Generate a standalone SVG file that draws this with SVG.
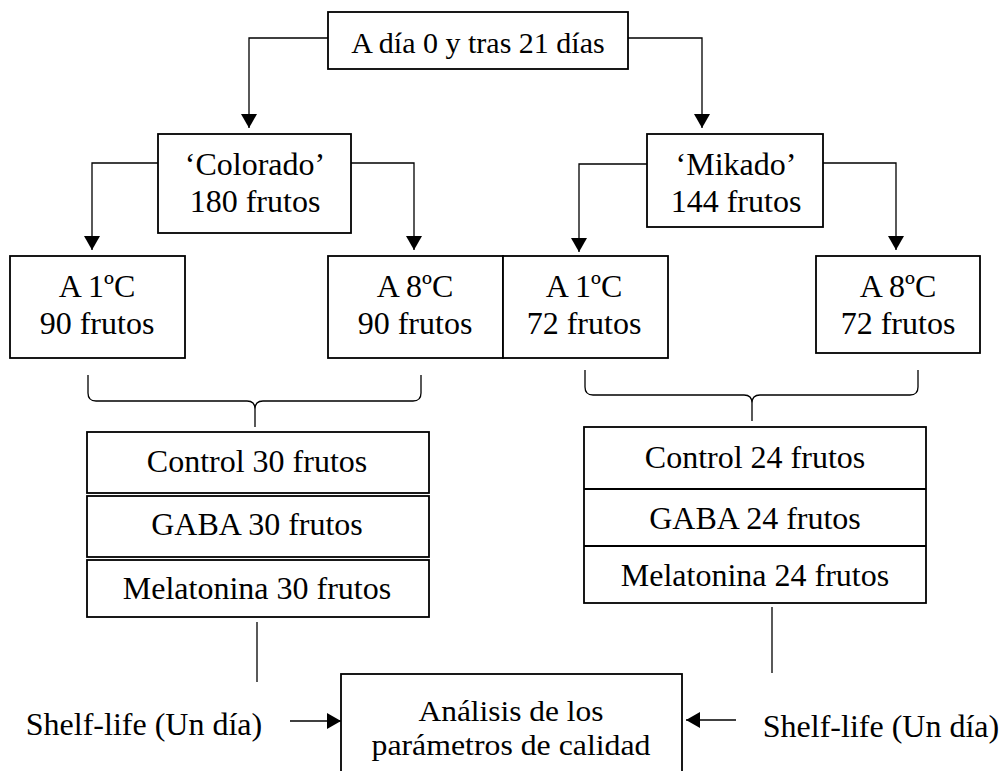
<svg xmlns="http://www.w3.org/2000/svg" width="1003" height="771" viewBox="0 0 1003 771">
<style>
.box{fill:#fff;stroke:#000;stroke-width:1.8}
.t{font-family:'Liberation Serif','Times New Roman','DejaVu Serif',serif;font-size:32px;fill:#000;text-anchor:middle}
.c{fill:none;stroke:#000;stroke-width:1.3}
</style>
<defs>
<marker id="ah" markerUnits="userSpaceOnUse" markerWidth="16" markerHeight="16" refX="14" refY="8" orient="auto">
<path d="M0,0 L14,8 L0,16 z" fill="#000"/>
</marker>
</defs>
<rect width="1003" height="771" fill="#fff"/>
<g id="connectors">
<path class="c" d="M328,38 H249 V128" marker-end="url(#ah)"/>
<path class="c" d="M628,38 H702 V128" marker-end="url(#ah)"/>
<path class="c" d="M158,163 H92 V250" marker-end="url(#ah)"/>
<path class="c" d="M351,163 H414 V250" marker-end="url(#ah)"/>
<path class="c" d="M647,164 H579 V252" marker-end="url(#ah)"/>
<path class="c" d="M823,163 H896 V250" marker-end="url(#ah)"/>
<path class="c" d="M88,375 L88,393 Q88,401 96,401 L247,401 Q255,401 255,409 L255,427 M255,409 Q255,401 263,401 L413,401 Q421,401 421,393 L421,375"/>
<path class="c" d="M585,370 L585,387 Q585,395 593,395 L744,395 Q752,395 752,403 L752,421 M752,403 Q752,395 760,395 L910,395 Q918,395 918,387 L918,370"/>
<path class="c" d="M257,622 V682"/>
<path class="c" d="M772,607 V673"/>
<path class="c" d="M290,721 H341" marker-end="url(#ah)"/>
<path class="c" d="M736,720 H686" marker-end="url(#ah)"/>
</g>
<g id="n-top">
<rect class="box" x="328" y="12" width="300" height="57"/>
<text class="t" x="478" y="53" font-family="Liberation Serif" style="font-size:30px">A día 0 y tras 21 días</text>
</g>
<g id="n-colorado">
<rect class="box" x="158" y="134" width="193" height="99"/>
<text class="t" x="255" y="175">‘Colorado’</text>
<text class="t" x="255" y="212">180 frutos</text>
</g>
<g id="n-mikado">
<rect class="box" x="647" y="134" width="176" height="93"/>
<text class="t" x="736" y="175">‘Mikado’</text>
<text class="t" x="736" y="212">144 frutos</text>
</g>
<g id="n-c1">
<rect class="box" x="10" y="256" width="175" height="102"/>
<text class="t" x="97" y="297">A 1ºC</text>
<text class="t" x="97" y="334">90 frutos</text>
</g>
<g id="n-c8">
<rect class="box" x="328" y="256" width="175" height="102"/>
<text class="t" x="415" y="297">A 8ºC</text>
<text class="t" x="415" y="334">90 frutos</text>
</g>
<g id="n-m1">
<rect class="box" x="503" y="256" width="165" height="102"/>
<text class="t" x="584" y="297">A 1ºC</text>
<text class="t" x="584" y="334">72 frutos</text>
</g>
<g id="n-m8">
<rect class="box" x="816" y="256" width="164" height="97"/>
<text class="t" x="898" y="297">A 8ºC</text>
<text class="t" x="898" y="334">72 frutos</text>
</g>
<g id="n-stack-left">
<rect class="box" x="87" y="432" width="342" height="61"/>
<text class="t" x="257" y="472">Control 30 frutos</text>
<rect class="box" x="87" y="496" width="342" height="61"/>
<text class="t" x="257" y="535">GABA 30 frutos</text>
<rect class="box" x="87" y="560" width="342" height="57"/>
<text class="t" x="257" y="599">Melatonina 30 frutos</text>
</g>
<g id="n-stack-right">
<rect class="box" x="584" y="427" width="342" height="176"/>
<line class="box" x1="584" y1="489" x2="926" y2="489"/>
<line class="box" x1="584" y1="546" x2="926" y2="546"/>
<text class="t" x="755" y="468">Control 24 frutos</text>
<text class="t" x="755" y="529">GABA 24 frutos</text>
<text class="t" x="755" y="586">Melatonina 24 frutos</text>
</g>
<g id="n-analisis">
<rect class="box" x="341" y="674" width="341" height="110"/>
<text class="t" x="511" y="721" style="font-size:30px" textLength="185" lengthAdjust="spacingAndGlyphs">Análisis de los</text>
<text class="t" x="511" y="755" style="font-size:30px" textLength="279" lengthAdjust="spacingAndGlyphs">parámetros de calidad</text>
</g>
<g id="n-shelf-left">
<text class="t" x="144" y="735">Shelf-life (Un día)</text>
</g>
<g id="n-shelf-right">
<text class="t" x="881" y="737">Shelf-life (Un día)</text>
</g>
</svg>
